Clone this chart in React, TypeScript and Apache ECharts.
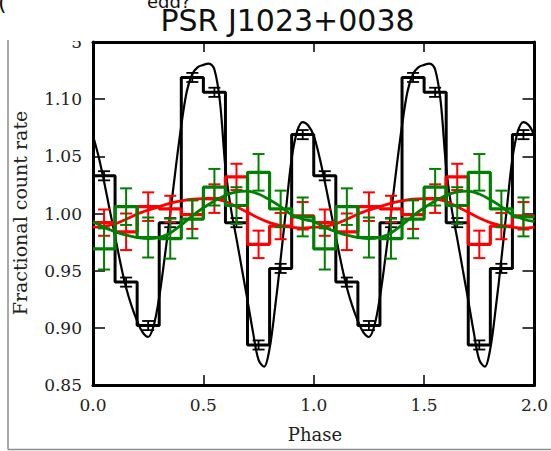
import React, { useEffect, useRef } from "react";
import * as echarts from "echarts";

// Folded light curve of PSR J1023+0038, 10 phase bins per cycle, shown over two cycles.
const BIN_WIDTH = 0.1;
const CYCLES = 2;

// Binned fractional count rates per phase bin (0.0-0.1, 0.1-0.2, ...)
const blackBins = [1.033, 0.94, 0.902, 0.992, 1.119, 1.106, 0.992, 0.885, 0.952, 1.069];
const blackErr = [0.004, 0.004, 0.004, 0.004, 0.004, 0.004, 0.004, 0.004, 0.004, 0.004];
const redBins = [0.992, 0.984, 1.006, 1.004, 0.999, 1.013, 1.032, 0.973, 0.989, 0.998];
const redErr = [0.0115, 0.016, 0.0125, 0.0115, 0.0125, 0.0125, 0.0115, 0.012, 0.0115, 0.012];
const greenBins = [0.969, 1.006, 0.979, 0.978, 0.995, 1.023, 1.007, 1.036, 1.004, 0.997];
const greenErr = [0.018, 0.016, 0.0175, 0.0175, 0.0167, 0.016, 0.016, 0.016, 0.016, 0.017];

// Model profiles sampled over one cycle
const blackModelStep = 0.025;
const blackModel = [
  1.068, 1.05, 1.028, 1.004, 0.98, 0.956, 0.935, 0.919, 0.906, 0.896,
  0.892, 0.902, 0.927, 0.962, 1.0, 1.04, 1.077, 1.107, 1.122, 1.128,
  1.13, 1.131, 1.126, 1.098, 1.04, 1.004, 0.978, 0.951, 0.924, 0.896,
  0.872, 0.866, 0.882, 0.918, 0.96, 1.005, 1.048, 1.072, 1.08, 1.077,
];
const colourModelStep = 0.05;
const redModel = [
  0.988, 0.9885, 0.991, 0.995, 0.9995, 1.003, 1.006, 1.009, 1.011, 1.0125,
  1.013, 1.0125, 1.0105, 1.006, 1.001, 0.996, 0.992, 0.9895, 0.988, 0.9872,
];
const greenModel = [
  0.993, 0.988, 0.984, 0.981, 0.979, 0.978, 0.979, 0.983, 0.99, 0.998,
  1.005, 1.011, 1.016, 1.019, 1.0195, 1.017, 1.012, 1.006, 0.999, 0.995,
];

const xTicks = { min: 0, max: 2, interval: 0.5 };
const yTicks = { min: 0.85, max: 1.15, interval: 0.05 };

const SERIF = "DejaVu Serif";

function stepLine(vals: number[]) {
  const pts: number[][] = [];
  for (let c = 0; c < CYCLES; c++) vals.forEach((v, i) => pts.push([c + i * BIN_WIDTH, v]));
  pts.push([CYCLES, vals[vals.length - 1]]);
  return pts;
}

function errPoints(vals: number[], errs: number[]) {
  const pts: number[][] = [];
  for (let c = 0; c < CYCLES; c++)
    vals.forEach((v, i) => pts.push([c + (i + 0.5) * BIN_WIDTH, v, errs[i]]));
  return pts;
}

function modelLine(vals: number[], step: number) {
  const pts: number[][] = [];
  for (let c = 0; c < CYCLES; c++) vals.forEach((v, i) => pts.push([c + i * step, v]));
  pts.push([CYCLES, vals[0]]);
  return pts;
}

function errorSeries(vals: number[], errs: number[], color: string, width: number, z: number) {
  return {
    type: "custom",
    z,
    data: errPoints(vals, errs),
    encode: { x: 0, y: 1 },
    renderItem: (_p: any, api: any) => {
      const x = api.value(0);
      const y = api.value(1);
      const e = api.value(2);
      const top = api.coord([x, y + e]);
      const bot = api.coord([x, y - e]);
      const cap = 6;
      const style = { stroke: color, lineWidth: width };
      return {
        type: "group",
        children: [
          { type: "line", shape: { x1: top[0], y1: top[1], x2: bot[0], y2: bot[1] }, style },
          { type: "line", shape: { x1: top[0] - cap, y1: top[1], x2: top[0] + cap, y2: top[1] }, style },
          { type: "line", shape: { x1: bot[0] - cap, y1: bot[1], x2: bot[0] + cap, y2: bot[1] }, style },
        ],
      };
    },
  };
}

function lineSeries(data: number[][], color: string, width: number, z: number, step?: string) {
  return {
    type: "line",
    z,
    data,
    step: step || false,
    smooth: step ? false : 0.35,
    symbol: "none",
    showSymbol: false,
    lineStyle: { color, width },
    itemStyle: { color },
  };
}

export default function App() {
  const ref = useRef<HTMLDivElement>(null);

  useEffect(() => {
    if (!ref.current) return;
    const chart = echarts.init(ref.current, null, { renderer: "svg" });

    const axisLine = { show: true, onZero: false, lineStyle: { color: "#000", width: 3 } };
    const xBase = {
      type: "value",
      ...xTicks,
      axisLine,
      splitLine: { show: false },
      axisTick: { show: true, inside: true, length: 10, lineStyle: { color: "#000", width: 1.5 } },
    };
    const yBase = {
      type: "value",
      ...yTicks,
      axisLine,
      splitLine: { show: false },
      axisTick: { show: true, inside: true, length: 12, lineStyle: { color: "#000", width: 1.5 } },
    };

    chart.setOption({
      animation: false,
      backgroundColor: "#fff",
      grid: { left: 93, right: 14, top: 42, bottom: 66 },
      xAxis: [
        {
          ...xBase,
          position: "bottom",
          axisLabel: {
            margin: 11,
            fontFamily: SERIF,
            fontSize: 17,
            color: "#222",
            showMinLabel: true,
            showMaxLabel: true,
            formatter: (v: number) => v.toFixed(1),
          },
        },
        { ...xBase, position: "top", axisLabel: { show: false } },
      ],
      yAxis: [
        {
          ...yBase,
          position: "left",
          axisLabel: {
            margin: 11,
            fontFamily: SERIF,
            fontSize: 17,
            color: "#222",
            showMinLabel: true,
            showMaxLabel: true,
            formatter: (v: number) => v.toFixed(2),
          },
        },
        { ...yBase, position: "right", axisLabel: { show: false } },
      ],
      series: [
        lineSeries(stepLine(blackBins), "#000", 3, 2, "end"),
        lineSeries(modelLine(blackModel, blackModelStep), "#000", 2.2, 2),
        errorSeries(blackBins, blackErr, "#000", 1.8, 3),
        lineSeries(stepLine(redBins), "#ff0000", 3.2, 4, "end"),
        errorSeries(redBins, redErr, "#ff0000", 2, 4),
        lineSeries(modelLine(redModel, colourModelStep), "#ff0000", 2.8, 4),
        lineSeries(stepLine(greenBins), "#008000", 3.2, 5, "end"),
        errorSeries(greenBins, greenErr, "#008000", 2, 5),
        lineSeries(modelLine(greenModel, colourModelStep), "#008000", 2.8, 5),
      ],
      graphic: [
        // panel edge
        { type: "line", z: 10, shape: { x1: 8, y1: 40, x2: 8, y2: 449.5 }, style: { stroke: "#8c8c8c", lineWidth: 1.5 } },
        { type: "line", z: 10, shape: { x1: 8, y1: 449.5, x2: 551, y2: 449.5 }, style: { stroke: "#8c8c8c", lineWidth: 1.5 } },
        // header strip over the top tick label
        { type: "rect", z: 20, shape: { x: 20, y: 0, width: 51, height: 50 }, style: { fill: "#fff" } },
        { type: "rect", z: 20, shape: { x: 71, y: 0, width: 20, height: 41 }, style: { fill: "#fff" } },
        {
          type: "text",
          z: 30,
          x: -2,
          y: 2,
          style: { text: "(", fontFamily: "DejaVu Sans", fontSize: 22, fill: "#111", textAlign: "left", textVerticalAlign: "middle" },
        },
        {
          type: "text",
          z: 30,
          x: 147,
          y: 1.5,
          style: { text: "edd?", fontFamily: "DejaVu Sans", fontSize: 18, fill: "#111", textAlign: "left", textVerticalAlign: "middle" },
        },
        {
          type: "text",
          z: 30,
          x: 287.5,
          y: 20.2,
          style: { text: "PSR J1023+0038", fontFamily: "DejaVu Sans", fontSize: 30, fill: "#111", textAlign: "center", textVerticalAlign: "middle" },
        },
        {
          type: "text",
          z: 30,
          x: 20,
          y: 213,
          rotation: Math.PI / 2,
          style: { text: "Fractional count rate", fontFamily: SERIF, fontSize: 19, fill: "#222", textAlign: "center", textVerticalAlign: "middle" },
        },
        {
          type: "text",
          z: 30,
          x: 315,
          y: 434,
          style: { text: "Phase", fontFamily: SERIF, fontSize: 18, fill: "#222", textAlign: "center", textVerticalAlign: "middle" },
        },
      ],
    });

    return () => chart.dispose();
  }, []);

  return (
    <div
      ref={ref}
      style={{ position: "fixed", left: 0, top: 0, width: 551, height: 451, background: "#fff" }}
    />
  );
}
